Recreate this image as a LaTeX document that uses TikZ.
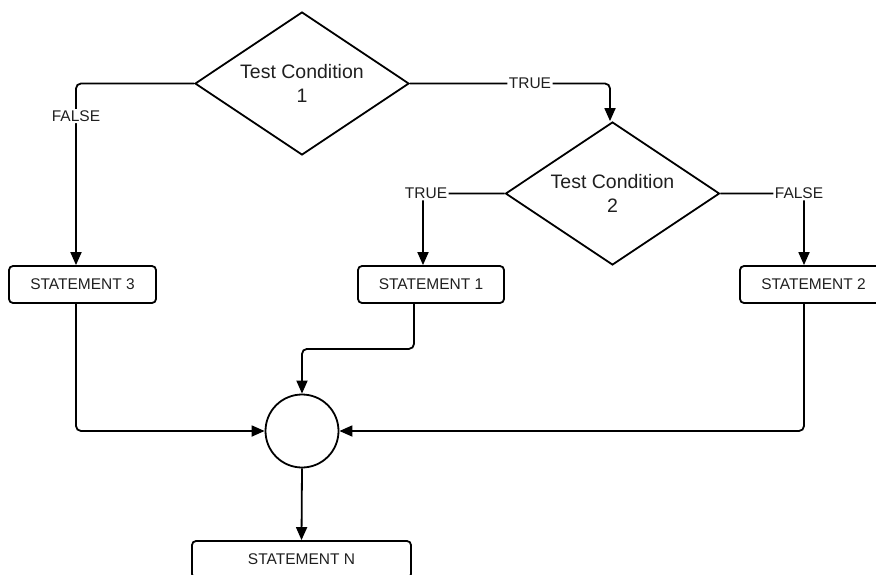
\documentclass[tikz,border=0pt]{standalone}
\usepackage{fontspec}
\setmainfont{Liberation Sans}
\usetikzlibrary{shapes.geometric,arrows.meta}

\definecolor{textc}{gray}{0.12}

\tikzset{
  cond/.style={diamond, draw, line width=1.8pt, aspect=1.5, inner sep=0pt,
    minimum width=214pt, minimum height=143pt, align=center,
    font=\fontsize{19.5}{24}\selectfont, text=textc},
  stmt/.style={rectangle, rounded corners=4pt, draw, line width=1.8pt,
    minimum width=147pt, minimum height=37pt, inner sep=0pt,
    font=\fontsize{15.5}{18}\selectfont, text=textc},
  junction/.style={circle, draw, line width=1.8pt, minimum size=73pt, inner sep=0pt},
  flow/.style={line width=1.8pt, rounded corners=5pt,
    -{Triangle[length=13pt,width=11pt]}},
  lbl/.style={fill=white, inner sep=1.5pt, font=\fontsize{15.5}{18}\selectfont, text=textc},
}

\begin{document}
\begin{tikzpicture}[x=1pt,y=-1pt]
  \useasboundingbox (0,0) rectangle (876,574);
  \clip (0,0) rectangle (876,574);

  % decisions
  \node[cond] (d1) at (302,83.5) {Test Condition\\1};
  \node[cond] (d2) at (612.5,193.5) {Test Condition\\2};

  % statements
  \node[stmt] (s3) at (82.5,284.5) {STATEMENT 3};
  \node[stmt, minimum width=146pt] (s1) at (431,284.5) {STATEMENT 1};
  \node[stmt] (s2) at (813.5,284.5) {STATEMENT 2};
  \node[stmt, minimum width=219pt] (sn) at (301.5,559.5) {STATEMENT N};

  % merge point
  \node[junction] (c) at (302,431) {};

  % branches of the first test
  \draw[flow] (d1.west) -| node[lbl, pos=0.59] {FALSE} ([xshift=-6.5pt]s3.north);
  \draw[flow] (d1.east) -| node[lbl, pos=0.3] {TRUE} ([xshift=-2.5pt]d2.north);

  % branches of the second test
  \draw[flow] (d2.west) -| node[lbl, pos=0.5, xshift=3pt] {TRUE} ([xshift=-8pt]s1.north);
  \draw[flow] (d2.east) -| node[lbl, pos=0.5, xshift=-5pt] {FALSE} ([xshift=-9.5pt]s2.north);

  % joining the branches
  \draw[flow] ([xshift=-17pt]s1.south) -- ++(0,45) -| (c.north);
  \draw[flow] ([xshift=-6.5pt]s3.south) |- (c.west);
  \draw[flow] ([xshift=-9.5pt]s2.south) |- (c.east);
  \draw[flow] (c.south) -- (sn.north);
\end{tikzpicture}
\end{document}
